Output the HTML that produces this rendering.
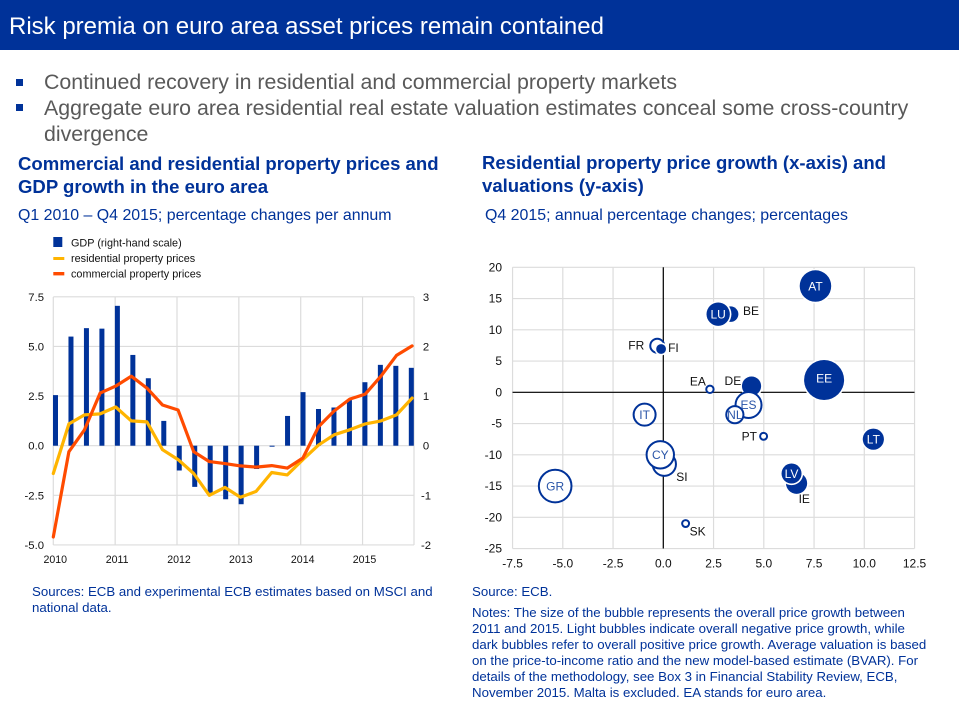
<!DOCTYPE html>
<html><head><meta charset="utf-8"><title>Risk premia</title>
<style>
html,body{margin:0;padding:0;background:#fff}
#page{position:relative;width:959px;height:718px;overflow:hidden;background:#fff;font-family:"Liberation Sans",Arial,sans-serif}
.t{position:absolute;white-space:nowrap}
#banner{position:absolute;left:0;top:0;width:959px;height:50px;background:#003299}
.b{font-size:21.33px;color:#595959;left:44px;line-height:25px}
.bm{position:absolute;left:16px;width:7px;height:7px;background:#003299}
.h{font-size:18.56px;font-weight:bold;color:#003299;line-height:23px}
.s{font-size:15.93px;color:#003299;line-height:18px}
.n{font-size:13.26px;color:#003299;line-height:16px}
svg{position:absolute;left:0;top:0}
svg text{font-family:"Liberation Sans",Arial,sans-serif}
</style></head>
<body>
<div id="page">
<div id="banner"></div>
<div class="t" style="left:9px;top:13px;font-size:24px;line-height:28px;color:#fff">Risk premia on euro area asset prices remain contained</div>
<div class="bm" style="top:79px"></div>
<div class="t b" style="top:70px">Continued recovery in residential and commercial property markets</div>
<div class="bm" style="top:104px"></div>
<div class="t b" style="top:96px">Aggregate euro area residential real estate valuation estimates conceal some cross-country</div>
<div class="t b" style="top:122px">divergence</div>

<div class="t h" style="left:18px;top:152px">Commercial and residential property prices and</div>
<div class="t h" style="left:18px;top:175px">GDP growth in the euro area</div>
<div class="t s" style="left:18px;top:207px">Q1 2010 – Q4 2015; percentage changes per annum</div>

<div class="t h" style="left:482px;top:151px">Residential property price growth (x-axis) and</div>
<div class="t h" style="left:482px;top:174px">valuations (y-axis)</div>
<div class="t s" style="left:485px;top:207px">Q4 2015; annual percentage changes; percentages</div>

<svg id="chart" width="959" height="718" viewBox="0 0 959 718"></svg>

<div class="t n" style="left:32px;top:584px">Sources: ECB and experimental ECB estimates based on MSCI and</div>
<div class="t n" style="left:32px;top:600px">national data.</div>
<div class="t n" style="left:472px;top:584px">Source: ECB.</div>
<div class="t n" style="left:472px;top:605px">Notes: The size of the bubble represents the overall price growth between</div>
<div class="t n" style="left:472px;top:621px">2011 and 2015. Light bubbles indicate overall negative price growth, while</div>
<div class="t n" style="left:472px;top:637px">dark bubbles refer to overall positive price growth. Average valuation is based</div>
<div class="t n" style="left:472px;top:653px">on the price-to-income ratio and the new model-based estimate (BVAR). For</div>
<div class="t n" style="left:472px;top:669px">details of the methodology, see Box 3 in Financial Stability Review, ECB,</div>
<div class="t n" style="left:472px;top:685px">November 2015. Malta is excluded. EA stands for euro area.</div>
</div>
<script>
var quarters = ["2010Q1","2010Q2","2010Q3","2010Q4","2011Q1","2011Q2","2011Q3","2011Q4","2012Q1","2012Q2","2012Q3","2012Q4","2013Q1","2013Q2","2013Q3","2013Q4","2014Q1","2014Q2","2014Q3","2014Q4","2015Q1","2015Q2","2015Q3","2015Q4"];
var gdpValues = [1.02,2.2,2.37,2.36,2.82,1.83,1.36,0.5,-0.5,-0.83,-0.95,-1.08,-1.18,-0.47,-0.02,0.6,1.08,0.74,0.77,0.92,1.28,1.63,1.61,1.57];
var residentialValues = [-1.4,1.1,1.55,1.6,1.95,1.25,1.2,-0.2,-0.7,-1.4,-2.5,-2.1,-2.6,-2.3,-1.35,-1.47,-0.7,0.03,0.55,0.8,1.1,1.25,1.55,2.4];
var commercialValues = [-4.6,-0.3,0.8,2.65,3.0,3.5,2.9,2.05,1.8,-0.3,-0.8,-0.9,-1.02,-1.08,-1.0,-1.13,-0.62,0.95,1.75,2.35,2.6,3.5,4.55,5.03];
var leftTickValues = [7.5,5,2.5,0,-2.5,-5];
var leftTickLabels = ["7.5","5.0","2.5","0.0","-2.5","-5.0"];
var rightTickValues = [3,2,1,0,-1,-2];
var rightTickLabels = ["3","2","1","0","-1","-2"];
var yearLabels = ["2010","2011","2012","2013","2014","2015"];
var bubbleLabels = ["AT","BE","LU","FR","FI","EA","DE","ES","NL","EE","IT","SI","CY","GR","SK","PT","LT","IE","LV"];
var bubbleX = [7.57,3.35,2.73,-0.3,-0.11,2.32,4.39,4.24,3.56,8.0,-0.93,0.05,-0.15,-5.38,1.11,4.99,10.45,6.63,6.38];
var bubbleY = [17.0,12.5,12.5,7.45,6.93,0.48,1.0,-2.03,-3.58,1.97,-3.58,-11.5,-10.0,-15.0,-21.0,-7.04,-7.5,-14.55,-13.0];
var bubbleGrowth = [62,15,34,-16,6,-5.5,23,-49,-23,100,-36,-40,-54,-75,-5,-5,28,28,25];
var scatterXTicks = [-7.5,-5,-2.5,0,2.5,5,7.5,10,12.5];
var scatterXLabels = ["-7.5","-5.0","-2.5","0.0","2.5","5.0","7.5","10.0","12.5"];
var scatterYTicks = [20,15,10,5,0,-5,-10,-15,-20,-25];
var legendLabels = ["GDP (right-hand scale)","residential property prices","commercial property prices"];

var NS = "http://www.w3.org/2000/svg";
var svg = document.getElementById("chart");
var BLUE = "#003299", GRID = "#dcdcdc";
function mk(tag, attrs, text) {
  var el = document.createElementNS(NS, tag);
  for (var k in attrs) el.setAttribute(k, attrs[k]);
  if (text !== undefined) el.textContent = text;
  svg.appendChild(el);
  return el;
}
function lx(i){ return 53.3 + i * 15.6; }
function bx(i){ return 55.5 + i * 15.47; }
function yearX(i){ return 53.3 + i * 61.85; }
function ly(v){ return 445.7 - v * 19.85; }
function ry(v){ return 445.7 - v * 49.6; }
function sx(v){ return 663.3 + v * 20.1; }
function sy(v){ return 392.3 - v * 6.25; }
function sr(v){ return 2 * Math.sqrt(Math.abs(v)); }

/* left grid */
leftTickValues.forEach(function(v, i){
  var g = mk("line", {x1:53.3, x2:414, y1:ly(v), y2:ly(v), stroke:GRID, "stroke-width":1.2});
  
  
  var t = mk("text", {x:44, y:ly(v)+4, "text-anchor":"end", "font-size":11.3, fill:"#111"}, leftTickLabels[i]);
  
  
});
rightTickValues.forEach(function(v, i){
  var t = mk("text", {x:426, y:ry(v)+4, "text-anchor":"middle", "font-size":11.3, fill:"#111"}, rightTickLabels[i]);
  
  
});
yearLabels.forEach(function(lab, i){
  var g = mk("line", {x1:yearX(i), x2:yearX(i), y1:297, y2:545, stroke:GRID, "stroke-width":1.2});
  
  
  var t = mk("text", {x:yearX(i)+2, y:563, "text-anchor":"middle", "font-size":10.6, fill:"#111"}, lab);
  
  
});
var edge = mk("line", {x1:414, x2:414, y1:297, y2:545, stroke:GRID, "stroke-width":1.2});



/* bars */
gdpValues.forEach(function(v, i){
  var y0 = ry(0), y1 = ry(v);
  var r = mk("rect", {x:bx(i)-2.5, y:Math.min(y0,y1), width:5, height:Math.max(Math.abs(y1-y0),0.8), fill:BLUE});
  
  
});
/* lines */
function pts(arr){ return arr.map(function(v,i){ return lx(i).toFixed(1)+","+ly(v).toFixed(1); }).join(" "); }
var resLine = mk("polyline", {points:pts(residentialValues), fill:"none", stroke:"#ffb400", "stroke-width":3.2, "stroke-linejoin":"round", "stroke-linecap":"round"});


var comLine = mk("polyline", {points:pts(commercialValues), fill:"none", stroke:"#ff4b00", "stroke-width":3.2, "stroke-linejoin":"round", "stroke-linecap":"round"});



/* legend */
var lgSwatch = mk("rect", {x:53.3, y:237, width:9, height:10, fill:BLUE});


var lgRes = mk("rect", {x:53.3, y:257, width:11, height:3, fill:"#ffb400"});


var lgCom = mk("rect", {x:53.3, y:272, width:11, height:3.4, fill:"#ff4b00"});


legendLabels.forEach(function(lab, i){
  var t = mk("text", {x:71, y:[246.5,262,277.5][i], "font-size":10.85, fill:"#111"}, lab);
  
  
});

/* scatter grid */
scatterYTicks.forEach(function(v){
  var g = mk("line", {x1:sx(-7.5), x2:sx(12.5), y1:sy(v), y2:sy(v), stroke:GRID, "stroke-width":1.2});
  
  
  var t = mk("text", {x:502, y:sy(v)+4, "text-anchor":"end", "font-size":12, fill:"#111"}, String(v));
  
  
});
scatterXTicks.forEach(function(v, i){
  var g = mk("line", {x1:sx(v), x2:sx(v), y1:sy(20), y2:sy(-25), stroke:GRID, "stroke-width":1.2});
  
  
  var t = mk("text", {x:sx(v), y:567.5, "text-anchor":"middle", "font-size":12, fill:"#111"}, scatterXLabels[i]);
  
  
});
var axV = mk("line", {x1:sx(0), x2:sx(0), y1:sy(20), y2:sy(-25), stroke:"#000", "stroke-width":1.2});


var axH = mk("line", {x1:sx(-7.5), x2:sx(12.5), y1:sy(0), y2:sy(0), stroke:"#000", "stroke-width":1.2});



/* bubbles: negative growth = light (hollow), positive = dark (filled) */
bubbleLabels.forEach(function(lab, i){
  var dark = bubbleGrowth[i] > 0;
  var r = sr(bubbleGrowth[i]);
  var cx = sx(bubbleX[i]), cy = sy(bubbleY[i]);
  if (dark) {
    var halo = mk("circle", {cx:cx, cy:cy, r:r+1.6, fill:"#fff"});
    
    
  }
  var c = mk("circle", {cx:cx, cy:cy, r:dark ? r : r-1, fill:dark ? BLUE : "#fff", stroke:dark ? "none" : BLUE, "stroke-width":dark ? 0 : 2});
  
  
});
var insideLabels = ["AT","LU","EE","LT","LV","IT","ES","NL","CY","GR"];
insideLabels.forEach(function(lab){
  var i = bubbleLabels.indexOf(lab);
  var dark = bubbleGrowth[i] > 0;
  var t = mk("text", {x:sx(bubbleX[i]), y:sy(bubbleY[i])+(lab === "EE" ? 2.5 : 4.2), "text-anchor":"middle", "font-size":12, fill:dark ? "#fff" : "#2a55a8"}, lab);
  
  
});
var outsideLabels = ["BE","FR","FI","EA","DE","PT","SI","SK","IE"];
var outsideDx = [12.4,-29,7,-20,-27,-22,12,4,2];
var outsideDy = [1,4,3,-4,-1,4,17,12,20];
outsideLabels.forEach(function(lab, k){
  var i = bubbleLabels.indexOf(lab);
  var t = mk("text", {x:sx(bubbleX[i]) + outsideDx[k], y:sy(bubbleY[i]) + outsideDy[k], "font-size":12, fill:"#111"}, lab);
  
  
});
</script>
</body></html>
